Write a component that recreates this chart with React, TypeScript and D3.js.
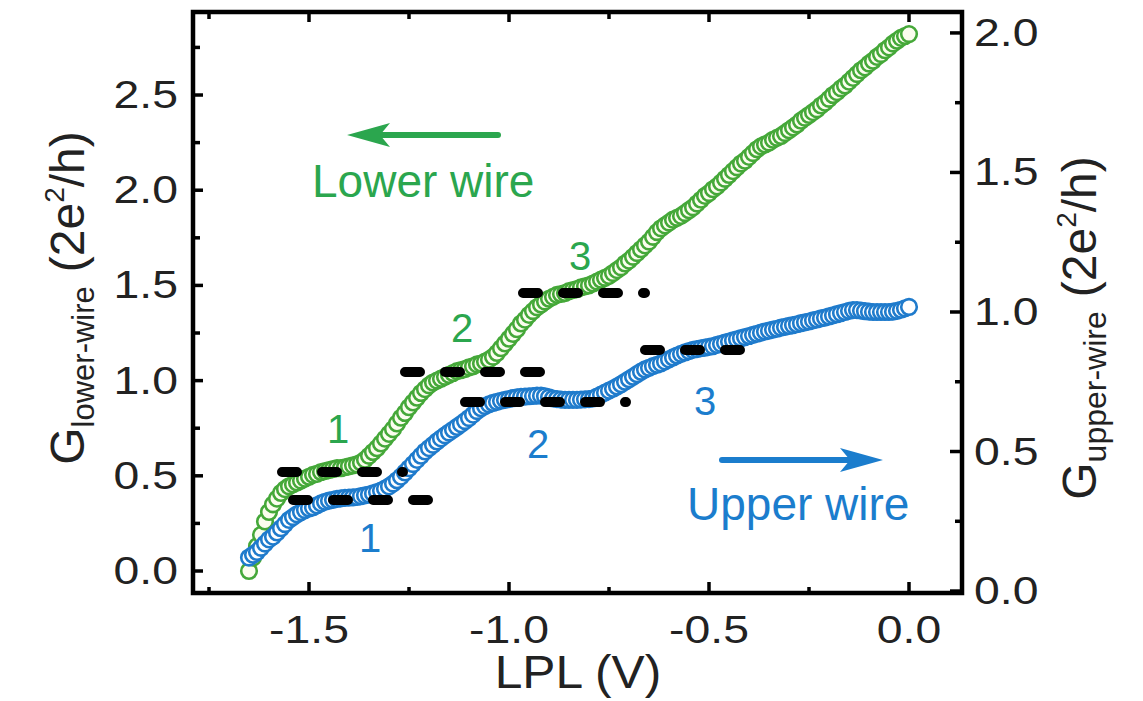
import React from 'react';
import * as d3 from 'd3';

// gate voltage grid (V)
const lpl = [
  -1.65, -1.64, -1.63, -1.62, -1.61, -1.6, -1.59, -1.58, -1.57, -1.56,
  -1.55, -1.54, -1.53, -1.52, -1.51, -1.5, -1.49, -1.48, -1.47, -1.46,
  -1.45, -1.44, -1.43, -1.42, -1.41, -1.4, -1.39, -1.38, -1.37, -1.36,
  -1.35, -1.34, -1.33, -1.32, -1.31, -1.3, -1.29, -1.28, -1.27, -1.26,
  -1.25, -1.24, -1.23, -1.22, -1.21, -1.2, -1.19, -1.18, -1.17, -1.16,
  -1.15, -1.14, -1.13, -1.12, -1.11, -1.1, -1.09, -1.08, -1.07, -1.06,
  -1.05, -1.04, -1.03, -1.02, -1.01, -1.0, -0.99, -0.98, -0.97, -0.96,
  -0.95, -0.94, -0.93, -0.92, -0.91, -0.9, -0.89, -0.88, -0.87, -0.86,
  -0.85, -0.84, -0.83, -0.82, -0.81, -0.8, -0.79, -0.78, -0.77, -0.76,
  -0.75, -0.74, -0.73, -0.72, -0.71, -0.7, -0.69, -0.68, -0.67, -0.66,
  -0.65, -0.64, -0.63, -0.62, -0.61, -0.6, -0.59, -0.58, -0.57, -0.56,
  -0.55, -0.54, -0.53, -0.52, -0.51, -0.5, -0.49, -0.48, -0.47, -0.46,
  -0.45, -0.44, -0.43, -0.42, -0.41, -0.4, -0.39, -0.38, -0.37, -0.36,
  -0.35, -0.34, -0.33, -0.32, -0.31, -0.3, -0.29, -0.28, -0.27, -0.26,
  -0.25, -0.24, -0.23, -0.22, -0.21, -0.2, -0.19, -0.18, -0.17, -0.16,
  -0.15, -0.14, -0.13, -0.12, -0.11, -0.1, -0.09, -0.08, -0.07, -0.06,
  -0.05, -0.04, -0.03, -0.02, -0.01, 0.0,
];

// lower wire conductance, left axis (2e^2/h)
const gLower = [
  0.0, 0.07, 0.13, 0.19, 0.26, 0.31, 0.35, 0.38, 0.41, 0.43,
  0.445, 0.455, 0.465, 0.475, 0.485, 0.495, 0.505, 0.51, 0.52, 0.525,
  0.53, 0.535, 0.54, 0.54, 0.545, 0.55, 0.555, 0.56, 0.57, 0.585,
  0.605, 0.625, 0.645, 0.67, 0.695, 0.72, 0.745, 0.775, 0.805, 0.83,
  0.86, 0.885, 0.91, 0.935, 0.955, 0.975, 0.99, 1.0, 1.01, 1.02,
  1.03, 1.04, 1.05, 1.055, 1.06, 1.07, 1.075, 1.085, 1.09, 1.1,
  1.11, 1.125, 1.145, 1.17, 1.195, 1.22, 1.245, 1.27, 1.3, 1.32,
  1.345, 1.365, 1.385, 1.4, 1.415, 1.43, 1.44, 1.45, 1.455, 1.46,
  1.47, 1.475, 1.48, 1.49, 1.495, 1.5, 1.51, 1.52, 1.53, 1.54,
  1.55, 1.565, 1.58, 1.595, 1.615, 1.63, 1.65, 1.67, 1.69, 1.71,
  1.73, 1.755, 1.78, 1.8, 1.815, 1.83, 1.845, 1.855, 1.865, 1.88,
  1.895, 1.91, 1.93, 1.95, 1.97, 1.985, 2.005, 2.02, 2.04, 2.06,
  2.08, 2.1, 2.12, 2.14, 2.155, 2.175, 2.195, 2.215, 2.23, 2.24,
  2.25, 2.265, 2.275, 2.285, 2.3, 2.315, 2.33, 2.345, 2.365, 2.38,
  2.395, 2.41, 2.425, 2.445, 2.46, 2.48, 2.5, 2.515, 2.535, 2.55,
  2.57, 2.59, 2.61, 2.63, 2.645, 2.665, 2.68, 2.7, 2.715, 2.735,
  2.75, 2.77, 2.785, 2.8, 2.81, 2.82,
];

// upper wire conductance, right axis (2e^2/h)
const gUpper = [
  0.12, 0.13, 0.14, 0.155, 0.17, 0.185, 0.195, 0.21, 0.225, 0.24,
  0.255, 0.265, 0.275, 0.283, 0.29, 0.296, 0.3, 0.307, 0.314, 0.32,
  0.324, 0.327, 0.33, 0.332, 0.334, 0.335, 0.336, 0.337, 0.34, 0.343,
  0.346, 0.35, 0.355, 0.36, 0.367, 0.375, 0.385, 0.397, 0.41, 0.425,
  0.44, 0.455, 0.47, 0.485, 0.5, 0.512, 0.524, 0.536, 0.547, 0.558,
  0.568, 0.578, 0.588, 0.598, 0.609, 0.62, 0.632, 0.645, 0.655, 0.663,
  0.669, 0.674, 0.678, 0.682, 0.685, 0.688, 0.691, 0.694, 0.696, 0.697,
  0.698, 0.699, 0.7, 0.7, 0.698, 0.694, 0.69, 0.688, 0.686, 0.685,
  0.685, 0.685, 0.685, 0.686, 0.687, 0.688, 0.69, 0.697, 0.704, 0.711,
  0.718, 0.725, 0.733, 0.741, 0.75, 0.759, 0.768, 0.777, 0.786, 0.794,
  0.8, 0.806, 0.811, 0.816, 0.823, 0.83, 0.837, 0.844, 0.85, 0.855,
  0.86, 0.864, 0.867, 0.87, 0.872, 0.875, 0.878, 0.882, 0.886, 0.89,
  0.894, 0.898, 0.902, 0.906, 0.91, 0.914, 0.918, 0.922, 0.926, 0.93,
  0.933, 0.937, 0.94, 0.944, 0.947, 0.95, 0.953, 0.956, 0.96, 0.963,
  0.966, 0.97, 0.973, 0.977, 0.98, 0.984, 0.988, 0.992, 0.996, 1.0,
  1.004, 1.007, 1.007, 1.005, 1.003, 1.001, 1.0, 1.0, 1.0, 1.0,
  1.0, 1.001, 1.004, 1.008, 1.013, 1.018,
];

// dashed plateau guides: [from V, to V, level]
const plateausLower = [
  [-1.58, -1.26, 0.52],
  [-1.2725, -0.9175, 1.045],
  [-0.9775, -0.655, 1.46],
];
const plateausUpper = [
  [-1.5525, -1.1925, 0.326],
  [-1.1225, -0.7025, 0.677],
  [-0.6725, -0.415, 0.864],
];

// plateau numbers: [V, G, label]
const labelsLower = [
  [-1.4275, 0.672, '1'],
  [-1.1175, 1.203, '2'],
  [-0.8225, 1.581, '3'],
];
const labelsUpper = [
  [-1.3475, 0.14, '1'],
  [-0.9275, 0.477, '2'],
  [-0.51, 0.631, '3'],
];

const xMajor = [-1.5, -1.0, -0.5, 0.0];
const xMinor = [-1.75, -1.25, -0.75, -0.25];
const yLeftMajor = [0, 0.5, 1.0, 1.5, 2.0, 2.5];
const yLeftMinor = [0.25, 0.75, 1.25, 1.75, 2.25, 2.75];
const yRightMajor = [0, 0.5, 1.0, 1.5, 2.0];
const yRightMinor = [0.25, 0.75, 1.25, 1.75];

const W = 1143;
const H = 701;
const L = 193, R = 962, T = 12, B = 593;
const FONT = '"Liberation Sans", Arial, Helvetica, sans-serif';
const GREEN = '#45a839';
const GREEN_TXT = '#2ba64e';
const BLUE = '#1f7bcc';
const BLUE_TXT = '#1b7dcd';

const x = d3.scaleLinear().domain([-1.79, 0.1325]).range([L, R]);
const yL = d3.scaleLinear().domain([-0.1155, 2.936]).range([B, T]);
const yR = d3.scaleLinear().domain([-0.007, 2.075]).range([B, T]);
const fmt = (v: number) => d3.format('.1f')(v).replace('\u2212', '-');

function Wide({ tx, ty, sx = 1.22, anchor = 'middle', size = 38, fill = '#222', children }: any) {
  return (
    <text transform={`translate(${tx},${ty}) scale(${sx},1)`} textAnchor={anchor}
      fontSize={size} fill={fill} fontFamily={FONT}>{children}</text>
  );
}

function Arrow({ x1, x2, y, color }: any) {
  const dir = x2 > x1 ? 1 : -1;
  const hl = 43, hw = 12;
  const back = x2 - dir * hl;
  const notch = x2 - dir * (hl - 10);
  const head = `M${x2},${y} L${back},${y - hw} L${notch},${y} L${back},${y + hw} Z`;
  return (
    <g>
      <line x1={x1} y1={y} x2={notch} y2={y} stroke={color} strokeWidth={6} strokeLinecap="round" />
      <path d={head} fill={color} />
    </g>
  );
}

export default function App() {
  const lower = lpl.map((v, i) => [x(v), yL(gLower[i])]);
  const upper = lpl.map((v, i) => [x(v), yR(gUpper[i])]);

  const dash = (p: number[], ys: any, k: string) => (
    <line key={k} x1={x(p[0]) + 5} x2={x(p[1]) - 2} y1={ys(p[2])} y2={ys(p[2])}
      stroke="#000" strokeWidth={10} strokeLinecap="round" strokeDasharray="15 25" />
  );

  return (
    <svg width={W} height={H} style={{ position: 'absolute', left: 0, top: 0, background: '#fff' }}>
      <rect x={0} y={0} width={W} height={H} fill="#fff" />

      {/* markers */}
      <g>
        {lower.map((p, i) => (
          <circle key={'l' + i} cx={p[0]} cy={p[1]} r={7.8} fill="#fbfdee" stroke={GREEN} strokeWidth={2.6} />
        ))}
      </g>
      <g>
        {upper.map((p, i) => (
          <circle key={'u' + i} cx={p[0]} cy={p[1]} r={7.8} fill="#fdfeff" stroke={BLUE} strokeWidth={2.6} />
        ))}
      </g>

      {/* plateau guides */}
      <g>
        {plateausLower.map((p, i) => dash(p, yL, 'pl' + i))}
        {plateausUpper.map((p, i) => dash(p, yR, 'pu' + i))}
      </g>

      {/* plateau numbers */}
      {labelsLower.map((d: any, i) => (
        <text key={'nl' + i} x={x(d[0])} y={yL(d[1])} textAnchor="middle" fontSize={40}
          fill={GREEN_TXT} fontFamily={FONT}>{d[2]}</text>
      ))}
      {labelsUpper.map((d: any, i) => (
        <text key={'nu' + i} x={x(d[0])} y={yR(d[1])} textAnchor="middle" fontSize={40}
          fill={BLUE_TXT} fontFamily={FONT}>{d[2]}</text>
      ))}

      {/* wire annotations */}
      <Arrow x1={x(-1.0275)} x2={x(-1.405)} y={yL(2.29)} color={GREEN_TXT} />
      <text x={x(-1.4925)} y={yL(1.964)} fontSize={46} fill={GREEN_TXT} fontFamily={FONT}>Lower wire</text>
      <Arrow x1={x(-0.4675)} x2={x(-0.065)} y={yR(0.4695)} color={BLUE_TXT} />
      <text x={x(-0.555)} y={yR(0.2545)} fontSize={46} fill={BLUE_TXT} fontFamily={FONT}>Upper wire</text>

      {/* frame */}
      <rect x={L} y={T} width={R - L} height={B - T} fill="none" stroke="#000" strokeWidth={4.5} />

      {/* ticks */}
      <g stroke="#000" strokeWidth={3.5}>
        {xMajor.map((v) => <line key={'xb' + v} x1={x(v)} x2={x(v)} y1={B} y2={B - 11} />)}
        {xMinor.map((v) => <line key={'xbm' + v} x1={x(v)} x2={x(v)} y1={B} y2={B - 6} />)}
        {xMajor.map((v) => <line key={'xt' + v} x1={x(v)} x2={x(v)} y1={T} y2={T + 10} />)}
        {xMinor.map((v) => <line key={'xtm' + v} x1={x(v)} x2={x(v)} y1={T} y2={T + 7} />)}
        {yLeftMajor.map((v) => <line key={'yl' + v} x1={L} x2={L + 10} y1={yL(v)} y2={yL(v)} />)}
        {yLeftMinor.map((v) => <line key={'ylm' + v} x1={L} x2={L + 7} y1={yL(v)} y2={yL(v)} />)}
        {yRightMajor.map((v) => <line key={'yr' + v} x1={R} x2={R - 12} y1={yR(v)} y2={yR(v)} />)}
        {yRightMinor.map((v) => <line key={'yrm' + v} x1={R} x2={R - 7} y1={yR(v)} y2={yR(v)} />)}
      </g>

      {/* tick labels */}
      {xMajor.map((v) => (
        <Wide key={'xl' + v} tx={x(v)} ty={643}>{fmt(v)}</Wide>
      ))}
      {yLeftMajor.map((v) => (
        <Wide key={'yll' + v} tx={178} ty={yL(v) + 13} anchor="end">{fmt(v)}</Wide>
      ))}
      {yRightMajor.map((v) => (
        <Wide key={'yrl' + v} tx={974} ty={yR(v) + 13} anchor="start">{fmt(v)}</Wide>
      ))}

      {/* axis titles */}
      <Wide tx={578} ty={688} sx={1.08} size={46}>LPL (V)</Wide>

      <text transform={`translate(84,298) rotate(-90)`} textAnchor="middle" fontSize={48}
        fill="#222" fontFamily={FONT}>
        <tspan>G</tspan>
        <tspan fontSize={31} dy={10}>lower-wire</tspan>
        <tspan dy={-10} dx={14}>(2e</tspan>
        <tspan fontSize={28} dy={-20}>2</tspan>
        <tspan dy={20}>/h)</tspan>
      </text>

      <text transform={`translate(1096,328) rotate(-90)`} textAnchor="middle" fontSize={48}
        fill="#222" fontFamily={FONT}>
        <tspan>G</tspan>
        <tspan fontSize={32} dy={10}>upper-wire</tspan>
        <tspan dy={-10} dx={14}>(2e</tspan>
        <tspan fontSize={28} dy={-20}>2</tspan>
        <tspan dy={20}>/h)</tspan>
      </text>
    </svg>
  );
}
